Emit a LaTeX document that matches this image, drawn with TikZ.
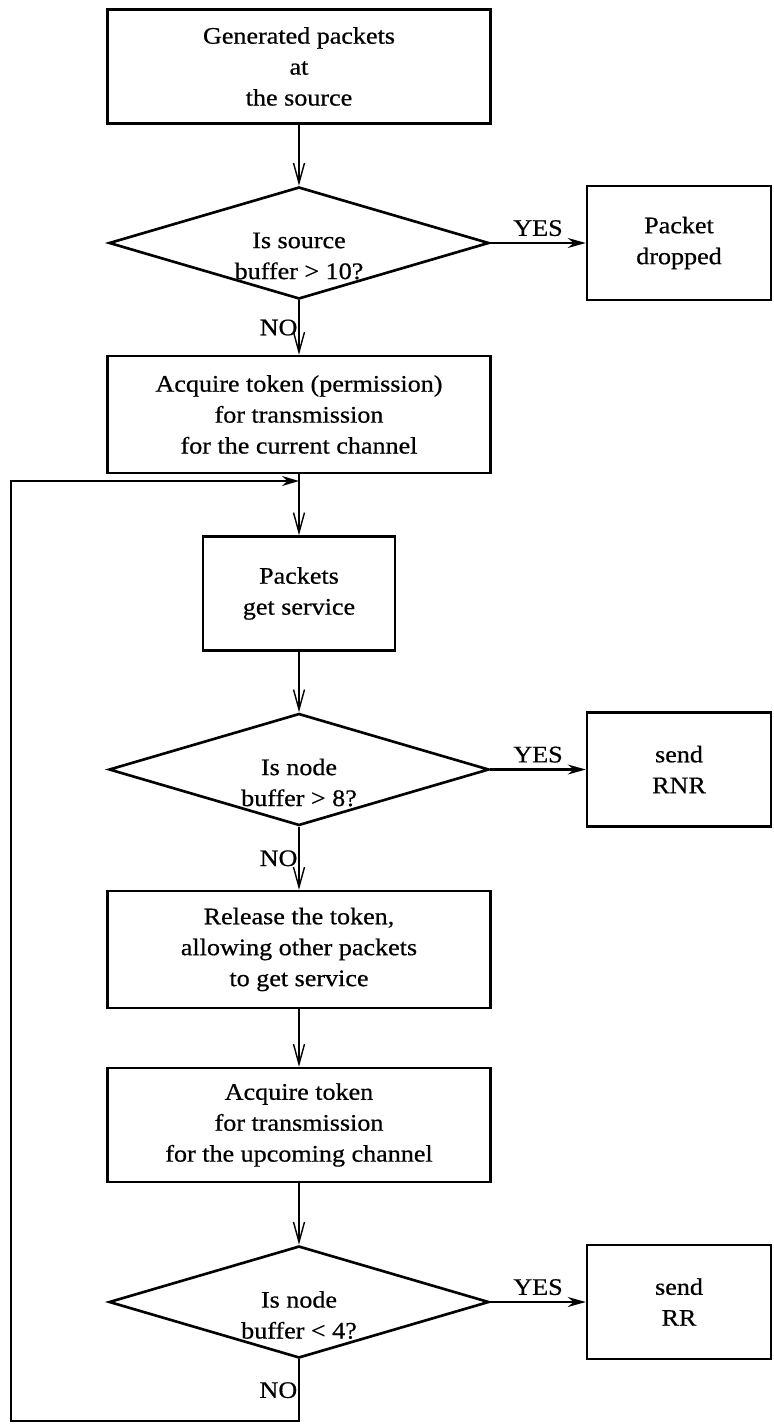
\documentclass[tikz,border=0pt]{standalone}
\usepackage{fontspec}
\setmainfont{Liberation Serif}[FakeStretch=1.1, FakeBold=0.6]
\usepackage{tikz}
\usetikzlibrary{arrows.meta}
\usetikzlibrary{shapes, calc, positioning}

\begin{document}
\begin{tikzpicture}[
  txt/.style={font=\fontsize{13.5}{17.6}\selectfont},
  procbox/.style={rectangle, draw, line width=1.4pt, align=center, txt, minimum width=7.66cm, minimum height=2.28cm},
  sidebox/.style={procbox, minimum width=3.68cm},
  decision/.style={diamond, draw, line width=1.5pt, inner sep=0pt, minimum width=7.6cm, minimum height=2.24cm},
  dectext/.style={align=center, txt, yshift=-0.26cm},
  flow/.style={line width=0.8pt, -{Straight Barb[length=4mm, width=2.2mm]}},
  yes/.style={line width=1.2pt, -{Stealth[length=3.6mm, width=2mm]}},
  loopback/.style={line width=1pt, -{Stealth[length=3.4mm, width=2mm]}},
  nolabel/.style={left, txt, inner sep=0.5pt}
]
  \useasboundingbox (0,0) rectangle (15.46,-28.5);

  % Main column
  \node[procbox] (gen) at (5.98,-1.33) {Generated packets\\at\\the source};
  \node[decision, label={[dectext]center:Is source\\buffer > 10?}] (srcq) at (5.98,-4.86) {};
  \node[procbox, minimum height=2.34cm] (acqcur) at (5.98,-8.29) {Acquire token (permission)\\for transmission\\for the current channel};
  \node[procbox, minimum width=3.84cm] (serve) at (5.98,-11.87) {Packets\\get service};
  \node[decision, label={[dectext]center:Is node\\buffer > 8?}] (nodeq) at (5.98,-15.39) {};
  \node[procbox, minimum height=2.34cm] (release) at (5.98,-18.99) {Release the token,\\allowing other packets\\to get service};
  \node[procbox] (acqup) at (5.98,-22.5) {Acquire token\\for transmission\\for the upcoming channel};
  \node[decision, label={[dectext]center:Is node\\buffer < 4?}] (rrq) at (5.98,-26.04) {};

  % Side boxes (YES branches)
  \node[sidebox] (drop) at (13.58,-4.86) {Packet\\dropped};
  \node[sidebox] (rnr) at (13.58,-15.39) {send\\RNR};
  \node[sidebox] (rr) at (13.58,-26.04) {send\\RR};

  % Connectors
  \draw[flow] (gen) -- (srcq);
  \draw[yes] (srcq) -- node[above, txt] {YES} (drop);
  \draw[flow] (srcq) -- node[nolabel] {NO} (acqcur);
  \draw[flow] (acqcur) -- (serve);
  \draw[flow] (serve) -- (nodeq);
  \draw[yes] (nodeq) -- node[above, txt] {YES} (rnr);
  \draw[flow] (nodeq) -- node[nolabel] {NO} (release);
  \draw[flow] (release) -- (acqup);
  \draw[flow] (acqup) -- (rrq);
  \draw[yes] (rrq) -- node[above, txt] {YES} (rr);

  % Loop back to the token step
  \coordinate (back) at (0.22,-28.42);
  \coordinate (join) at (5.98,-9.62);
  \draw[loopback] (rrq.south) -- node[nolabel] {NO} (rrq.south |- back) -- (back) |- (join);
\end{tikzpicture}
\end{document}
